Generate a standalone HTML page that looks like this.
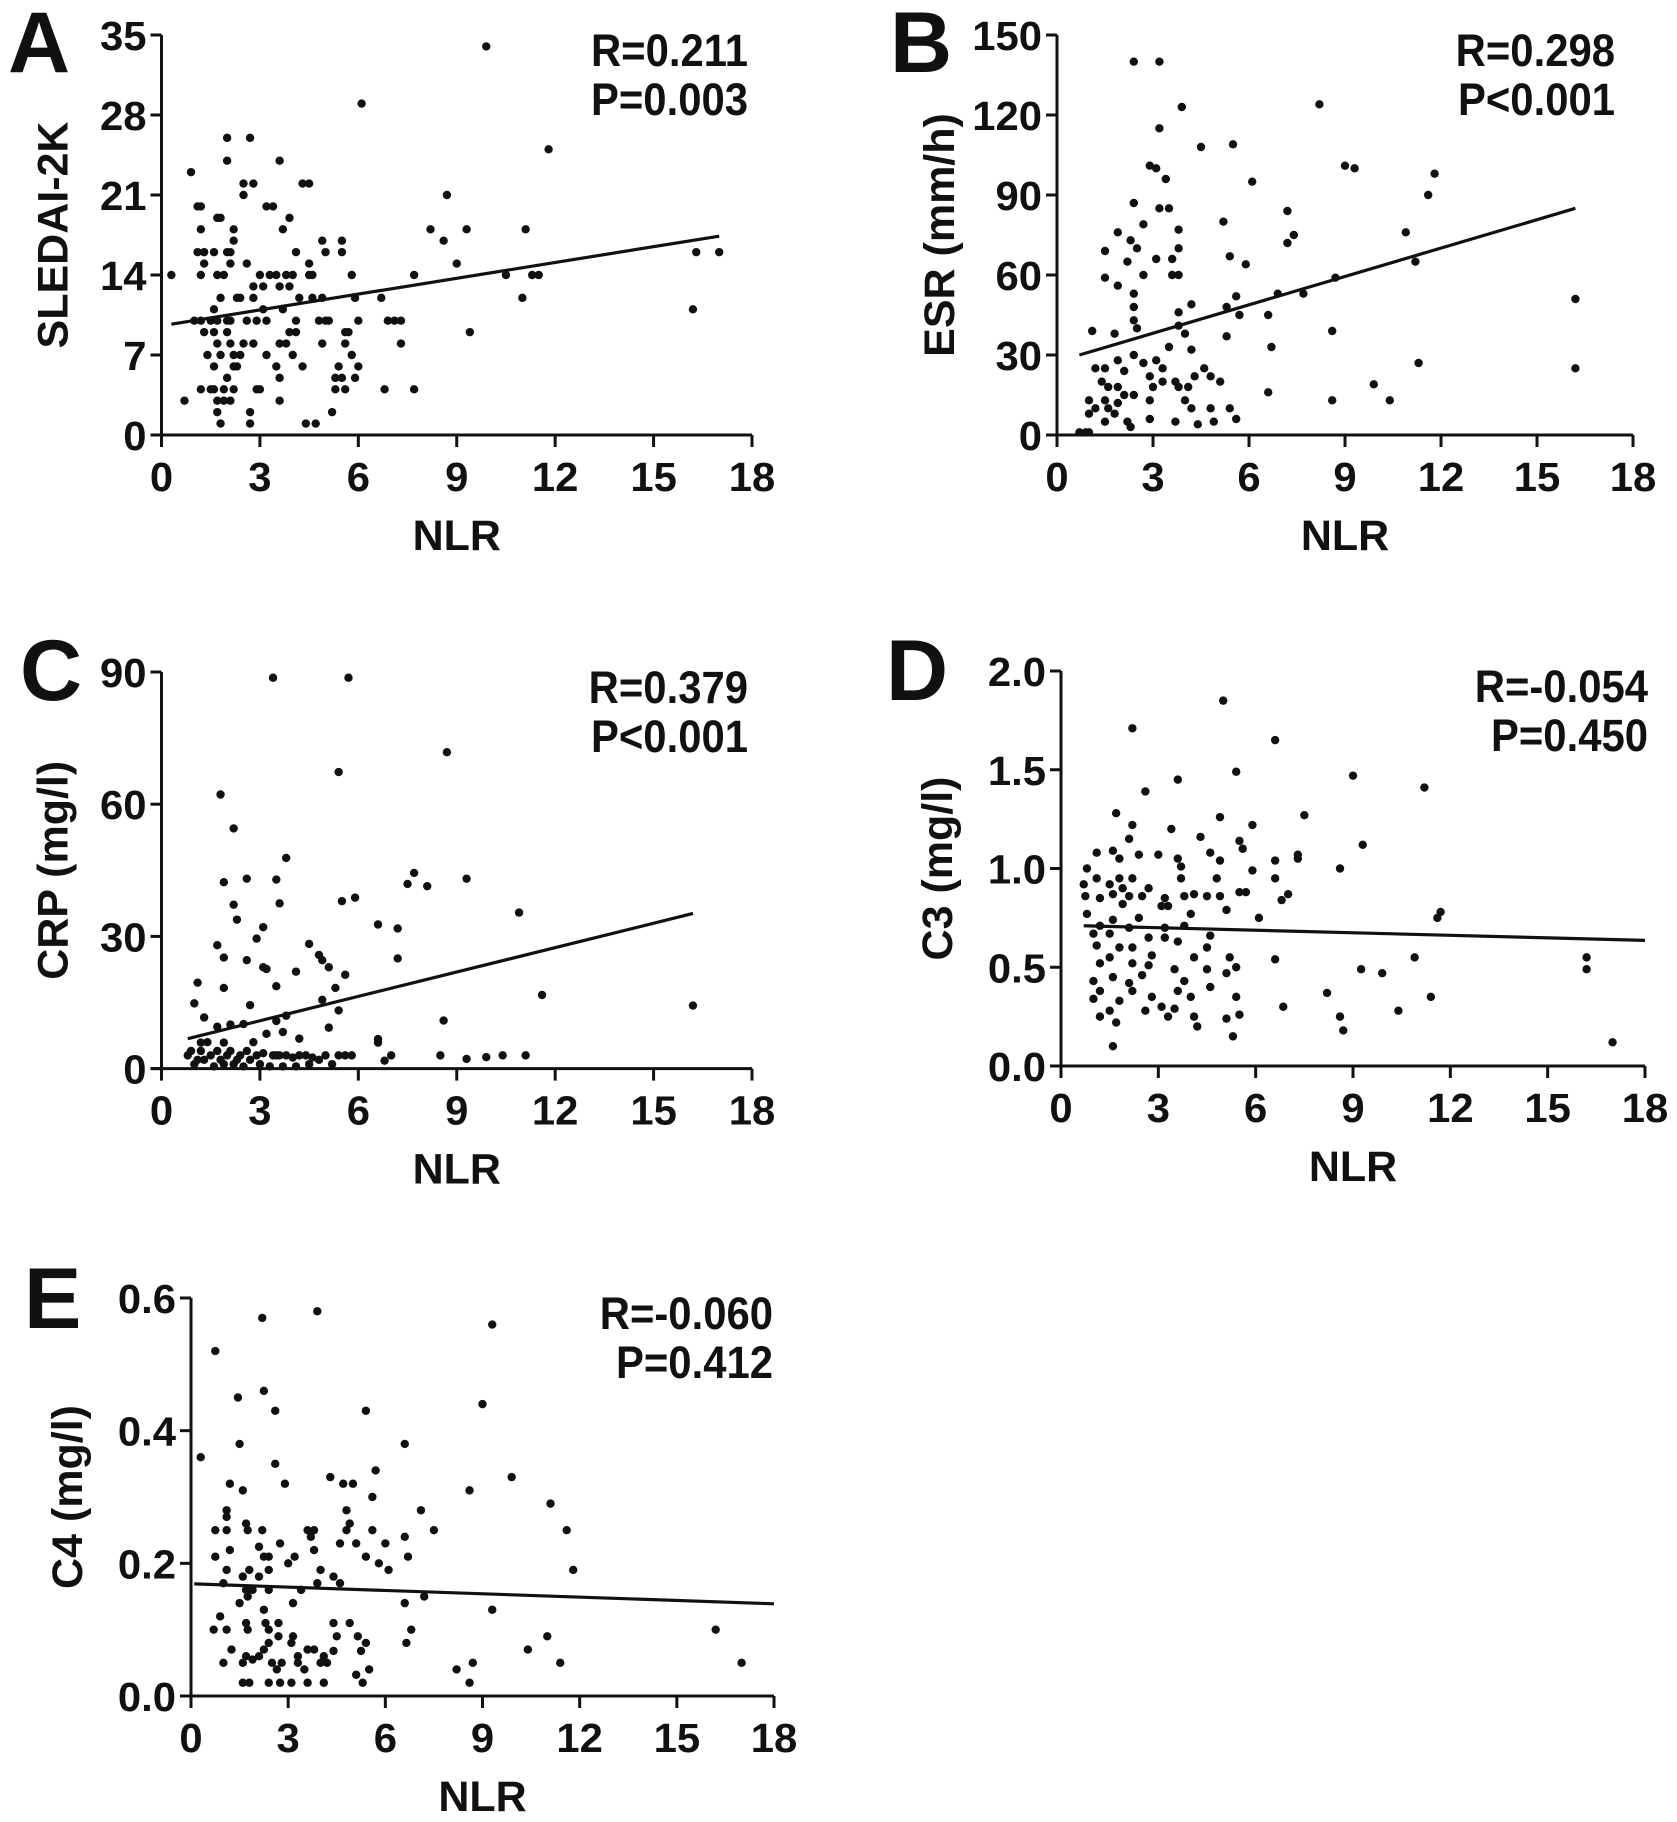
<!DOCTYPE html>
<html><head><meta charset="utf-8"><style>
html,body{margin:0;padding:0;background:#fff;}
svg{display:block;}
text{font-family:"Liberation Sans",Arial,sans-serif;font-weight:bold;fill:#111;}
</style></head><body>
<svg id="fig" xmlns="http://www.w3.org/2000/svg" width="1677" height="1822" viewBox="0 0 1677 1822"></svg>
<script>
// ---------- data (NLR, value) ----------
const sledaiPoints=[[0.3,14],[0.7,3],[0.9,23],[1,10],[1.1,20],[1.2,20],[1.2,18],[1.1,16],[1.3,16],[1.2,14],[1.3,15],[1.2,10],[1.3,9],[1.4,7],[1.2,4],[1.5,4],[1.6,4],[1.7,19],[1.8,19],[1.6,16],[1.7,14],[1.8,12],[1.6,11],[1.7,10],[1.5,10],[1.6,9],[1.7,8],[1.8,7],[1.6,6],[1.7,3],[1.7,2],[1.8,1],[1.9,4],[1.9,3],[2.0,26],[2.0,24],[2.0,16],[1.9,14],[2.1,15],[2.1,16],[2.2,18],[2.2,17],[2.0,10],[2.1,10],[2.0,9],[2.1,8],[2.2,7],[2.0,5],[2.1,3],[2.2,4],[2.3,12],[2.4,12],[2.2,6],[2.3,6],[2.4,7],[2.5,8],[2.5,21],[2.5,22],[2.6,15],[2.6,10],[2.7,26],[2.7,2],[2.7,1],[2.8,22],[2.8,13],[2.8,12],[2.8,8],[2.9,10],[2.9,4],[3.0,4],[3.0,14],[3.1,13],[3.1,11],[3.2,20],[3.2,10],[3.3,14],[3.2,7],[3.4,20],[3.5,14],[3.6,13],[3.6,8],[3.5,6],[3.6,5],[3.6,3],[3.7,18],[3.7,11],[3.8,14],[3.6,24],[3.9,19],[3.9,13],[3.9,9],[3.8,8],[4.0,14],[4.0,7],[4.1,16],[4.1,10],[4.1,9],[4.2,12],[4.3,22],[4.3,6],[4.4,1],[4.5,22],[4.5,15],[4.5,14],[4.6,14],[4.6,12],[4.7,1],[4.8,10],[4.9,17],[4.9,12],[4.9,8],[5.0,16],[5.0,10],[5.1,10],[5.2,2],[5.3,5],[5.4,6],[5.3,4],[5.5,17],[5.5,16],[5.6,9],[5.6,8],[5.5,5],[5.6,4],[5.7,9],[5.8,7],[5.9,12],[5.8,14],[5.9,5],[6.0,10],[6.0,6],[6.1,29],[6.7,12],[6.8,4],[6.9,10],[7.1,10],[7.3,10],[7.3,8],[7.7,4],[7.7,14],[8.2,18],[8.6,17],[8.7,21],[9.0,15],[9.3,18],[9.4,9],[9.9,34],[10.5,14],[11.0,12],[11.1,18],[11.3,14],[11.5,14],[11.8,25],[16.2,11],[16.3,16],[17.0,16]];
const sledaiTrend=[[0.3,9.7],[17,17.4]];

const esrPoints=[[2.4,140],[3.2,140],[3.9,123],[8.2,124],[3.2,115],[4.5,108],[5.5,109],[2.9,101],[3.1,100],[9.0,101],[9.3,100],[11.8,98],[3.4,96],[6.1,95],[11.6,90],[2.4,87],[3.5,85],[3.2,85],[7.2,84],[5.2,80],[1.9,76],[3.8,77],[2.7,79],[7.4,75],[7.2,72],[10.9,76],[2.3,73],[2.5,70],[3.8,70],[1.5,69],[2.2,65],[3.6,66],[3.1,66],[5.4,67],[5.9,64],[11.2,65],[1.5,59],[2.7,60],[3.6,60],[3.8,60],[1.9,56],[8.7,59],[2.4,53],[2.4,48],[4.2,49],[5.6,52],[7.7,53],[6.9,53],[5.3,48],[6.6,45],[5.7,45],[2.4,43],[3.8,46],[1.1,39],[1.8,38],[2.5,40],[3.8,41],[3.5,33],[4.2,32],[5.3,37],[4.0,38],[6.7,33],[8.6,39],[1.2,25],[1.5,25],[1.9,28],[2.1,24],[2.7,27],[3.1,28],[3.3,25],[2.4,30],[1.4,20],[1.6,18],[1.9,18],[2.1,15],[2.9,22],[3.0,18],[3.3,20],[3.7,20],[3.8,18],[4.1,18],[4.3,22],[4.6,25],[4.8,22],[5.1,20],[11.3,27],[9.9,19],[1.0,13],[1.2,10],[1.5,13],[1.6,10],[1.8,8],[1.9,12],[2.4,15],[2.9,13],[4.0,13],[4.2,10],[4.8,10],[5.4,10],[1.0,8],[1.5,5],[2.2,5],[2.3,3],[2.9,6],[3.7,5],[4.4,4],[4.9,5],[5.6,6],[6.6,16],[8.6,13],[10.4,13],[0.7,1],[0.9,1],[1.0,1],[16.2,51],[16.2,25]];
const esrTrend=[[0.7,30],[16.2,85]];

const crpPoints=[[3.4,88.7],[5.7,88.7],[8.7,71.8],[5.4,67.3],[1.8,62.2],[2.2,54.5],[3.8,47.8],[1.9,42.3],[2.6,43.1],[3.5,42.9],[7.7,44.4],[7.5,41.9],[8.1,41.4],[9.3,43.1],[2.2,37.2],[3.6,37.5],[5.5,38],[5.9,38.8],[10.9,35.4],[2.3,33.8],[3.1,32.1],[2.9,29.5],[6.6,32.7],[7.2,31.8],[1.7,28],[1.9,25.2],[2.6,24.6],[4.5,28.3],[4.8,25.8],[4.9,24.6],[3.1,23],[3.2,22.6],[4.1,22],[5.1,23],[5.6,21.3],[7.2,25],[1.1,19.5],[1.9,18.3],[3.5,18.7],[5.3,18.3],[11.6,16.7],[1.0,14.8],[2.7,14.4],[4.9,15.6],[5.4,13.2],[16.2,14.3],[1.3,11.6],[1.7,9.5],[2.1,10],[2.5,10.1],[3.5,10.8],[3.8,12],[8.6,10.9],[5.1,9.3],[3.2,7.9],[3.7,8.3],[4.2,6.8],[6.6,6.7],[6.6,5.9],[1.2,5.9],[1.9,5.9],[7.0,3],[6.8,1.8],[8.5,3],[9.3,2.2],[9.9,2.6],[10.4,3],[11.1,3],[0.8,3],[1.0,1],[1.2,4],[1.3,2],[1.5,3],[1.6,0.5],[1.7,4],[1.8,2],[1.9,1],[2.0,3],[2.1,4],[2.2,1],[2.3,2],[2.4,3],[2.5,0.5],[2.6,4],[2.7,2],[2.9,3],[3.0,1],[3.1,3.5],[3.3,0.5],[3.4,3],[3.6,3],[3.7,0.5],[3.8,3],[4.0,2.5],[4.2,3],[4.4,3],[4.5,1],[4.6,2.5],[4.8,2],[5.0,3],[5.2,1],[5.4,3],[5.6,3],[5.8,3],[1.4,6],[0.9,4],[1.1,2],[2.8,6],[3.5,3],[4.1,0.5]];
const crpTrend=[[0.8,6.8],[16.2,35.2]];

const c3Points=[[5.0,1.85],[2.2,1.71],[6.6,1.65],[5.4,1.49],[9.0,1.47],[3.6,1.45],[11.2,1.41],[2.6,1.39],[1.7,1.28],[4.9,1.26],[7.5,1.27],[2.2,1.22],[3.4,1.20],[5.9,1.22],[2.1,1.15],[4.3,1.16],[5.5,1.14],[5.6,1.10],[9.3,1.12],[1.1,1.08],[1.6,1.09],[2.4,1.07],[3.0,1.07],[4.6,1.08],[7.3,1.07],[7.3,1.05],[1.8,1.05],[3.6,1.05],[4.9,1.04],[6.6,1.04],[0.8,1.0],[3.7,1.01],[5.9,0.99],[8.6,1.0],[1.1,0.95],[1.8,0.95],[2.2,0.95],[3.7,0.95],[4.8,0.95],[6.6,0.95],[0.7,0.92],[1.5,0.92],[1.9,0.9],[2.7,0.9],[3.8,0.86],[0.75,0.86],[1.2,0.85],[1.6,0.87],[2.1,0.86],[2.5,0.86],[3.2,0.85],[4.1,0.87],[4.5,0.86],[4.9,0.86],[5.5,0.88],[5.7,0.88],[7.0,0.87],[6.8,0.84],[1.9,0.82],[3.1,0.81],[3.3,0.81],[5.1,0.79],[0.8,0.77],[4.0,0.77],[11.7,0.78],[11.6,0.75],[6.1,0.75],[2.4,0.75],[1.6,0.74],[1.2,0.71],[2.1,0.70],[3.2,0.70],[3.8,0.71],[4.6,0.66],[1.0,0.67],[1.5,0.67],[2.7,0.65],[3.2,0.65],[1.1,0.61],[3.6,0.63],[4.5,0.60],[1.8,0.60],[2.2,0.60],[2.8,0.56],[1.5,0.55],[4.1,0.55],[5.2,0.55],[6.6,0.54],[10.9,0.55],[16.2,0.55],[1.2,0.52],[2.2,0.52],[2.7,0.51],[5.4,0.50],[9.25,0.49],[9.9,0.47],[16.2,0.49],[4.5,0.49],[3.5,0.49],[5.1,0.47],[1.6,0.45],[2.5,0.46],[1.0,0.43],[2.1,0.42],[3.8,0.43],[2.2,0.38],[3.6,0.38],[4.6,0.40],[8.2,0.37],[1.2,0.38],[1.0,0.34],[1.8,0.33],[2.8,0.35],[4.0,0.35],[5.4,0.35],[11.4,0.35],[1.5,0.28],[2.6,0.28],[3.1,0.30],[3.5,0.29],[6.85,0.30],[1.2,0.25],[3.3,0.25],[4.1,0.25],[5.5,0.26],[10.4,0.28],[8.6,0.25],[1.7,0.22],[5.1,0.24],[4.2,0.20],[8.7,0.18],[5.3,0.15],[1.6,0.10],[17.0,0.12]];
const c3Trend=[[0.7,0.71],[18,0.636]];

const c4Points=[[3.9,0.58],[2.2,0.57],[9.3,0.56],[0.75,0.52],[2.25,0.46],[1.45,0.45],[9.0,0.44],[2.6,0.43],[5.4,0.43],[1.5,0.38],[6.6,0.38],[0.3,0.36],[2.6,0.35],[5.7,0.34],[9.9,0.33],[4.3,0.33],[4.7,0.32],[5.0,0.32],[1.2,0.32],[1.6,0.31],[2.9,0.32],[8.6,0.31],[5.6,0.30],[11.1,0.29],[1.1,0.28],[4.8,0.28],[7.1,0.28],[1.1,0.27],[1.7,0.26],[4.9,0.26],[0.75,0.25],[1.1,0.25],[1.75,0.25],[2.2,0.25],[3.6,0.25],[3.8,0.25],[4.8,0.25],[5.6,0.25],[7.5,0.25],[11.6,0.25],[6.6,0.24],[3.7,0.24],[2.75,0.23],[4.6,0.23],[5.1,0.23],[2.1,0.225],[6.0,0.23],[3.8,0.22],[1.2,0.22],[0.75,0.21],[2.25,0.21],[3.2,0.21],[5.4,0.21],[6.7,0.21],[2.4,0.21],[3.0,0.20],[5.8,0.20],[4.0,0.19],[6.1,0.19],[11.8,0.19],[1.1,0.19],[1.8,0.19],[2.4,0.19],[1.0,0.17],[1.6,0.18],[2.1,0.18],[3.9,0.17],[4.4,0.18],[4.6,0.17],[1.7,0.16],[1.9,0.16],[2.4,0.16],[3.4,0.16],[7.2,0.15],[1.75,0.15],[1.5,0.14],[3.15,0.14],[6.6,0.14],[2.25,0.13],[9.3,0.13],[0.9,0.12],[2.3,0.11],[1.7,0.11],[2.7,0.11],[4.4,0.11],[4.9,0.11],[0.7,0.10],[1.1,0.10],[1.75,0.10],[2.4,0.10],[6.8,0.10],[16.2,0.10],[2.7,0.09],[3.15,0.09],[4.5,0.09],[5.15,0.09],[11.0,0.09],[2.4,0.08],[3.1,0.08],[5.4,0.08],[6.65,0.08],[1.25,0.07],[2.25,0.07],[3.6,0.07],[3.8,0.07],[10.4,0.07],[4.4,0.068],[5.25,0.068],[1.7,0.06],[2.1,0.06],[3.3,0.06],[4.1,0.06],[1.0,0.05],[1.6,0.05],[1.9,0.055],[2.5,0.05],[2.8,0.05],[3.3,0.05],[4.0,0.05],[4.2,0.05],[8.7,0.05],[11.4,0.05],[17.0,0.05],[2.65,0.04],[3.5,0.04],[5.1,0.032],[5.5,0.04],[8.2,0.04],[1.6,0.02],[1.8,0.02],[2.4,0.02],[2.75,0.02],[3.1,0.02],[3.6,0.02],[4.1,0.02],[5.3,0.02],[8.6,0.02]];
const c4Trend=[[0.1,0.169],[18,0.139]];

const xTicks=[0,3,6,9,12,15,18];
const xTickLabels=["0","3","6","9","12","15","18"];
const sledaiTicks=[0,7,14,21,28,35];
const sledaiTickLabels=["0","7","14","21","28","35"];
const esrTicks=[0,30,60,90,120,150];
const esrTickLabels=["0","30","60","90","120","150"];
const crpTicks=[0,30,60,90];
const crpTickLabels=["0","30","60","90"];
const c3Ticks=[0,0.5,1.0,1.5,2.0];
const c3TickLabels=["0.0","0.5","1.0","1.5","2.0"];
const c4Ticks=[0,0.2,0.4,0.6];
const c4TickLabels=["0.0","0.2","0.4","0.6"];
const statLabels=[["R=0.211","P=0.003"],["R=0.298","P<0.001"],["R=0.379","P<0.001"],["R=-0.054","P=0.450"],["R=-0.060","P=0.412"]];

// ---------- layout ----------
const NS="http://www.w3.org/2000/svg";
const svg=document.getElementById('fig');
function el(tag,attrs,parent){const e=document.createElementNS(NS,tag);for(const k in attrs)e.setAttribute(k,attrs[k]);(parent||svg).appendChild(e);return e;}

const panels=[
 {key:"a",letter:"A",title:"SLEDAI-2K",pts:sledaiPoints,trend:sledaiTrend,yt:sledaiTicks,yl:sledaiTickLabels,ymax:35,x0:161.5,x1:752,y0:435,y1:35,lx:8,ly:72,tOff:-110,rOff:4,stat:statLabels[0]},
 {key:"b",letter:"B",title:"ESR (mm/h)",pts:esrPoints,trend:esrTrend,yt:esrTicks,yl:esrTickLabels,ymax:150,x0:1057,x1:1633,y0:435,y1:35,lx:890,ly:72,tOff:-119,rOff:18,stat:statLabels[1]},
 {key:"c",letter:"C",title:"CRP (mg/l)",pts:crpPoints,trend:crpTrend,yt:crpTicks,yl:crpTickLabels,ymax:90,x0:161.5,x1:752,y0:1068.6,y1:672,lx:20,ly:700,tOff:-110,rOff:4,stat:statLabels[2]},
 {key:"d",letter:"D",title:"C3 (mg/l)",pts:c3Points,trend:c3Trend,yt:c3Ticks,yl:c3TickLabels,ymax:2.0,x0:1061,x1:1645,y0:1066,y1:671,lx:886,ly:700,tOff:-125,rOff:-3,stat:statLabels[3]},
 {key:"e",letter:"E",title:"C4 (mg/l)",pts:c4Points,trend:c4Trend,yt:c4Ticks,yl:c4TickLabels,ymax:0.6,x0:191,x1:774,y0:1696,y1:1298,lx:24,ly:1328,tOff:-125,rOff:1,stat:statLabels[4]}
];

panels.forEach(p=>{
  const g=el('g',{});
  
  
  const sx=v=>p.x0+(v/18)*(p.x1-p.x0);
  const sy=v=>p.y0-(v/p.ymax)*(p.y0-p.y1);

  const L=el('text',{x:p.lx,y:p.ly,'font-size':86},g);
  L.textContent=p.letter;
  
  

  const ya=el('line',{x1:p.x0,y1:p.y0,x2:p.x0,y2:p.y1,stroke:'#111','stroke-width':3},g);
  
  
  const xa=el('line',{x1:p.x0-11,y1:p.y0,x2:p.x1,y2:p.y0,stroke:'#111','stroke-width':3},g);
  
  

  p.yt.forEach((v,i)=>{
    const y=sy(v);
    el('line',{x1:p.x0-11,y1:y,x2:p.x0,y2:y,stroke:'#111','stroke-width':3},g);
    const t=el('text',{transform:`translate(${p.x0-15},${y+15}) scale(1.02,1)`,'font-size':41,'text-anchor':'end'},g);
    t.textContent=p.yl[i];
    
    
  });
  xTicks.forEach((v,i)=>{
    const x=sx(v);
    el('line',{x1:x,y1:p.y0,x2:x,y2:p.y0+12,stroke:'#111','stroke-width':3},g);
    const t=el('text',{transform:`translate(${x},${p.y0+56}) scale(1.02,1)`,'font-size':41,'text-anchor':'middle'},g);
    t.textContent=xTickLabels[i];
    
    
  });

  const xt=el('text',{x:(p.x0+p.x1)/2,y:p.y0+115,'font-size':43,'text-anchor':'middle'},g);
  xt.textContent="NLR";
  
  
  const yt=el('text',{transform:`translate(${p.x0+p.tOff+16},${(p.y0+p.y1)/2}) rotate(-90)`,'font-size':43,'text-anchor':'middle'},g);
  yt.textContent=p.title;
  
  

  p.stat.forEach((s,i)=>{
    const t=el('text',{transform:`translate(${p.x1-p.rOff},${p.y1+31+i*49}) scale(0.93,1)`,'font-size':45,'text-anchor':'end'},g);
    t.textContent=s;
    
    
  });

  p.pts.forEach(d=>{
    const c=el('circle',{cx:sx(d[0]),cy:sy(d[1]),r:4.2,fill:'#111'},g);
    
    
  });

  const tl=el('line',{x1:sx(p.trend[0][0]),y1:sy(p.trend[0][1]),x2:sx(p.trend[1][0]),y2:sy(p.trend[1][1]),stroke:'#111','stroke-width':3.2},g);
  
  
});
</script>
</body></html>
